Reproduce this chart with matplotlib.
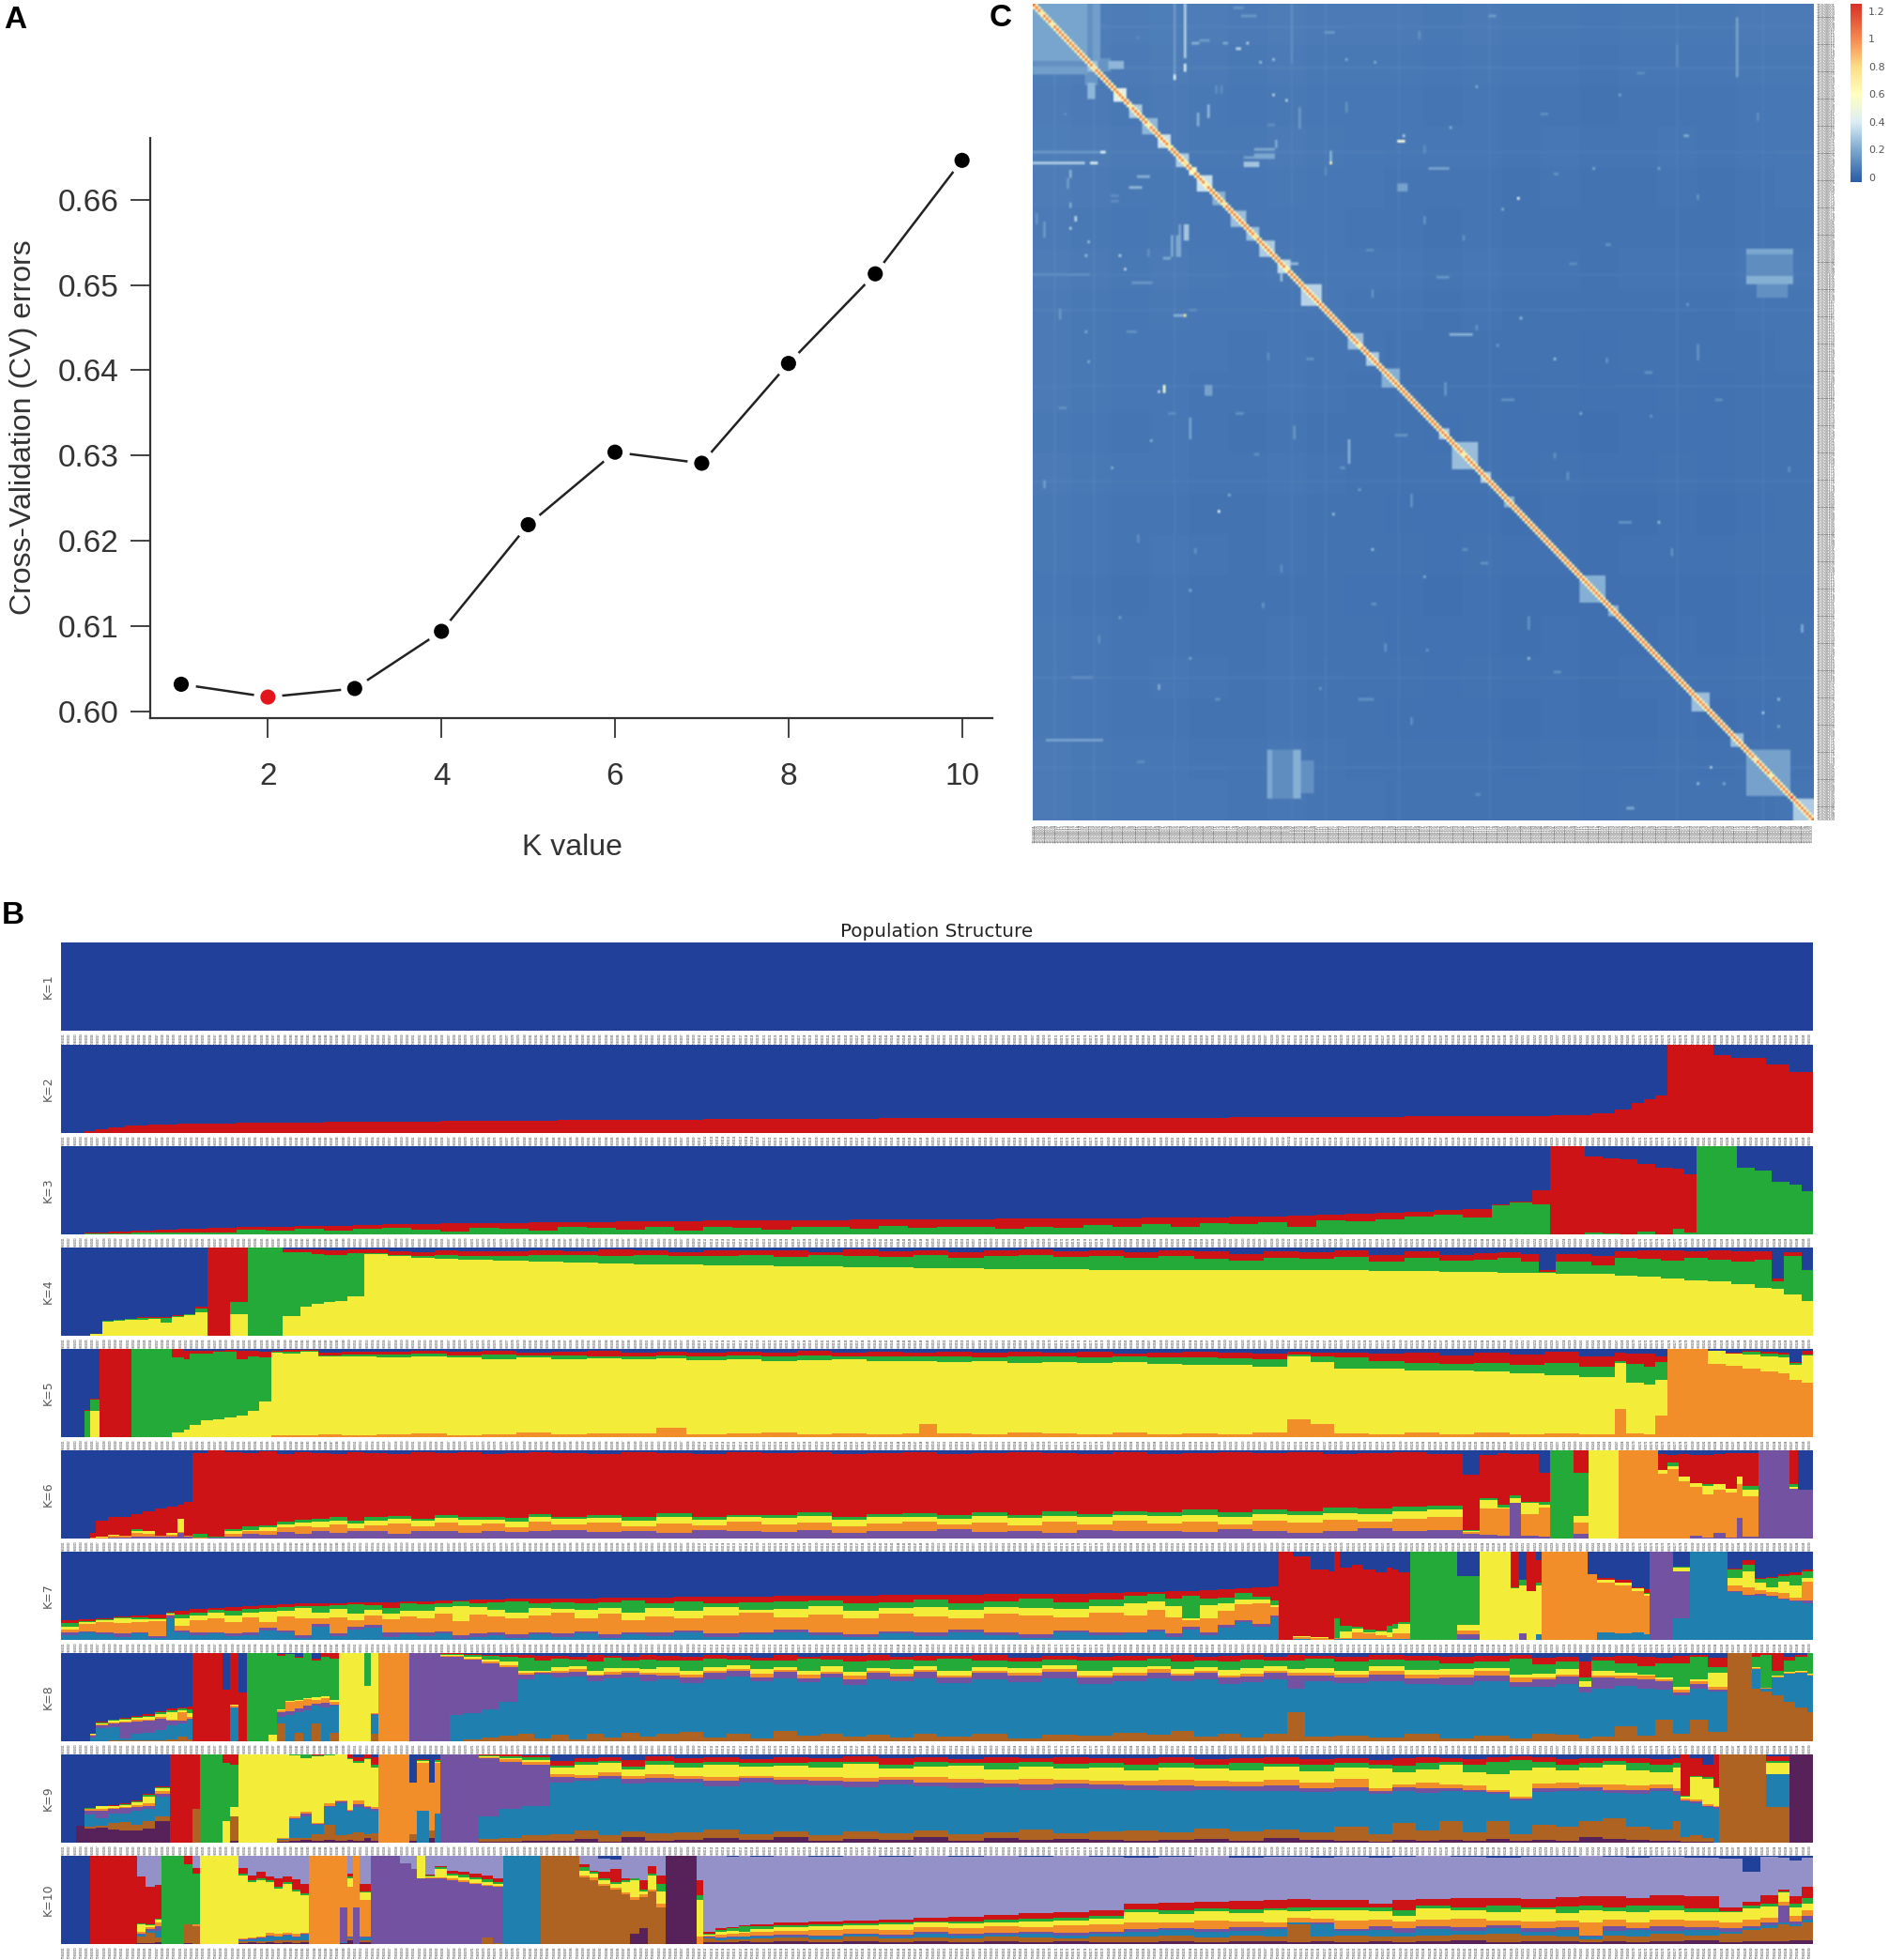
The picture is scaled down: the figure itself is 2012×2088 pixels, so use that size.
import numpy as np
import matplotlib
matplotlib.use('Agg')
import matplotlib.pyplot as plt
from matplotlib.colors import LinearSegmentedColormap, Normalize

W, H = 2012, 2088

# panel A
k_values = [1, 2, 3, 4, 5, 6, 7, 8, 9, 10]
cv_errors = [0.6032, 0.6017, 0.6027, 0.6094, 0.6219, 0.6304, 0.6291, 0.6408, 0.6513, 0.6646]
best_k = 2

# panel B colours
BLUE, RED, GREEN, YELLOW = '#20409A', '#CE1317', '#24AA38', '#F3EC38'
ORANGE, PURPLE, TEAL = '#F28E29', '#7452A2', '#1F7FAE'
BROWN, DARK, LAV = '#AE6322', '#572259', '#9490C8'

# panel B: each row is (last sample of the run, top of each layer from the bottom up, %)
k1_bars = [(300, 0)]
k2_bars = [(4,0),(6,2),(8,4),(11,6),(15,8),(20,9),(30,10),(45,11),(65,12),(85,13),(110,14),(140,15),(170,16),(200,17),
           (230,18),(255,19),(262,20),(266,22),(269,26),(271,33),(273,38),(275,42),(283,100),(286,88),(292,85),(296,77),(300,69)]
k3_bars = [(4,0,0),(8,1,2),(12,1,3),(16,2,4),(20,2,5),(25,2,6),(30,2,7),(35,5,8),(40,4,9),(45,6,10),(50,4,10),(55,6,11),
           (60,7,12),(65,5,12),(70,3,13),(75,7,13),(80,6,13),(85,4,14),(90,8,14),(95,7,14),(100,5,15),(105,9,15),(110,4,15),
           (115,8,16),(120,7,16),(125,5,16),(130,9,16),(135,8,16),(140,6,17),(145,10,17),(150,7,17),(155,9,17),(160,8,17),
           (165,6,18),(170,9,18),(175,7,18),(180,11,18),(185,8,18),(190,12,19),(195,9,19),(200,13,19),(205,12,20),(210,14,20),
           (215,8,21),(220,16,22),(225,15,23),(230,17,25),(235,20,26),(240,22,28),(245,19,29),(248,33,34),(252,36,37),(255,34,50),
           (261,0,100),(264,2,88),(267,1,86),(270,0,85),(273,3,80),(276,0,76),(278,6,74),(280,2,68),(287,100,100),(290,76,76),
           (293,72,72),(296,60,60),(298,56,56),(300,49,49)]
k4_bars = [(5,0,0,0),(7,2,2,2),(9,16,17,17),(11,17,18,18),(13,18,19,19),(15,18,20,21),(17,19,20,21),(19,15,20,21),(21,21,22,23),
           (23,23,24,25),(25,27,31,33),(29,0,0,100),(32,24,38,100),(38,0,100,100),(41,22,95,98),(43,33,95,98),(45,36,93,98),
           (47,38,92,97),(49,39,91,97),(52,45,94,98),(56,93,94,98),(60,90,91,96),(64,88,90,95),(68,87,92,97),(74,86,90,96),
           (80,85,90,96),(86,84,91,97),(92,83,91,96),(98,82,90,98),(104,81,92,97),(110,81,90,95),(116,80,90,97),(122,80,91,97),
           (128,79,89,97),(134,79,91,95),(140,78,90,98),(146,78,89,96),(152,77,91,97),(158,77,88,95),(164,76,90,97),(170,76,92,98),
           (176,76,89,96),(182,75,90,97),(188,75,88,95),(194,75,90,97),(200,74,87,96),(206,74,85,93),(212,74,88,96),(218,74,87,95),
           (224,74,89,97),(230,73,84,91),(236,73,88,96),(242,72,85,92),(246,72,86,94),(250,71,88,95),(253,71,84,93),(256,71,72,75),
           (262,70,84,93),(266,70,80,90),(270,68,88,96),(274,67,87,97),(278,65,85,97),(282,63,88,96),(286,62,86,97),(290,58,84,96),
           (293,54,86,96),(295,53,62,65),(298,47,90,95),(300,39,74,75)]
k5_bars = [(4,0,0,0,0),(5,0,0,30,31),(6.6,0,30,43,44),(12,0,0,0,100),(19,0,0,100,100),(21,0,5,90,100),(22,0,8,88,98),(24,0,14,95,98),
           (26,0,19,95,98),(28,0,20,97,98),(30,0,22,97,99),(32,0,25,88,98),(34,0,30,92,98),(36,0,40,90,97),(38,2,96,97,98),(41,2,95,97,99),
           (44,2,97,98,99),(48,3,92,93,96),(54,2,91,94,97),(60,3,90,94,97),(66,4,92,95,98),(72,2,90,93,97),(78,3,88,94,98),(84,5,90,93,96),
           (90,3,88,93,97),(96,4,89,92,98),(102,4,88,92,96),(107,11,89,93,97),(114,3,87,91,96),(120,4,88,93,97),(126,5,86,92,96),
           (132,3,87,93,98),(138,4,88,92,96),(144,3,86,92,97),(147,4,86,91,96),(150,15,86,91,96),(156,4,85,92,97),(162,3,86,90,96),
           (168,5,84,91,97),(174,4,85,92,96),(180,3,84,90,97),(186,5,85,91,95),(192,3,83,90,96),(198,4,82,90,97),(204,3,82,89,96),
           (210,5,80,88,95),(214,20,92,94,97),(218,15,85,92,96),(224,4,78,90,96),(230,3,78,86,95),(236,5,76,84,96),(242,3,76,83,93),
           (248,5,74,84,96),(254,3,72,82,94),(260,4,70,84,97),(266,3,68,80,92),(268,32,84,86,96),(271,4,62,83,95),(273,3,60,80,95),
           (275,25,65,85,92),(282,100,100,100,100),(285,83,98,98,98),(288,81,95,95,96),(291,78,94,97,98),(294,74,92,95,97),(296,72,90,94,96),
           (298,65,82,84,85),(300,62,93,94,98)]
k6_bars = [(5,0,0,0,0,0),(6,0,1,1,1,6),(8,0,1,2,2,20),(10,1,3,4,4,24),(12,1,3,3,3,25),(14,2,6,9,11,28),(16,2,5,8,9,31),(18,2,3,3,3,34),
           (20,2,4,6,6,36),(21,6,7,22,22,38),(22.5,2,3,3,3,42),(25,0,1,1,5,97),(28,1,1,1,2,100),(31,2,5,9,11,98),(34,5,8,10,14,97),
           (37,4,9,13,15,99),(40,7,13,16,19,96),(43,5,14,18,21,98),(46,8,13,19,22,97),(49,6,16,20,24,96),(52,9,12,17,20,98),(56,8,15,20,24,97),
           (60,5,17,22,26,96),(64,9,14,20,22,98),(68,8,18,23,27,97),(72,6,15,21,25,98),(76,9,17,21,24,96),(80,7,13,19,23,97),(84,8,19,25,28,98),
           (90,10,16,22,25,97),(96,7,18,23,27,96),(102,9,14,20,24,98),(108,6,17,25,29,97),(114,10,15,21,25,96),(120,8,19,24,27,98),
           (126,7,16,23,27,97),(132,10,18,26,30,98),(138,6,14,21,25,96),(144,9,17,24,28,97),(150,8,19,25,29,98),(156,11,16,22,27,96),
           (162,7,18,26,30,97),(168,9,15,23,27,98),(174,6,19,26,31,97),(180,10,16,24,28,96),(186,8,20,27,31,98),(192,9,17,26,30,96),
           (198,7,19,27,33,97),(204,11,16,25,30,98),(210,8,20,28,33,97),(216,6,18,27,31,98),(222,9,21,29,35,96),(228,12,19,28,34,97),
           (234,8,22,31,36,98),(240,10,24,33,37,96),(243,5,7,9,10,72),(246,4,34,44,46,95),(248,3,34,35,38,97),(250,40,40,46,49,96),
           (253,3,28,40,42,96),(255,2,35,38,42,75),(259,0,0,0,100,100),(261.5,5,18,26,75,100),(266.8,0,0,100,100,100),(273.4,0,100,100,100,100),
           (275,0,73,78,78,96),(277,0,79,82,86,95),(279,0,65,70,70,96),(281,3,58,63,63,95),(283,1,50,60,62,95),(285,6,55,62,62,96),
           (287,1,52,56,56,97),(288,23,62,70,70,97),(290.7,2,48,55,60,97),(296,100,100,100,100,100),(297.4,56,56,59,62,100),(300,55,55,55,55,55)]
k7_bars = [(3,5,8,12,15,19,22),(6,8,10,18,20,21,23),(9,6,8,20,22,23,25),(12,3,7,19,25,26,27),(15,7,9,20,23,26,28),(18,2,4,21,23,25,29),
           (19.5,25,28,29,30,31,32),(22,9,11,16,25,29,33),(25,5,8,22,28,31,35),(28,7,9,25,31,34,36),(31,4,7,20,28,33,37),(34,5,8,26,31,35,38),
           (37,11,14,20,32,36,39),(40,8,11,27,33,37,40),(43,2,5,24,36,38,41),(46,15,18,24,31,38,41),(49,4,7,26,35,39,42),(52,12,15,22,30,40,43),
           (55,14,17,28,34,39,43),(58,3,8,23,30,36,43),(61,6,9,27,33,41,44),(64,4,8,25,33,40,44),(67,7,10,30,37,42,45),(70,1,5,21,38,44,45),
           (73,3,7,29,37,42,46),(76,5,8,27,34,43,46),(80,2,6,25,31,44,47),(84,6,9,28,36,42,47),(88,3,7,31,35,43,47),(92,7,10,24,34,41,47),
           (96,2,6,30,36,43,48),(100,6,9,22,31,45,48),(105,4,8,27,36,41,48),(110,8,11,25,33,44,49),(116,3,7,28,37,42,49),(122,6,9,31,34,43,49),
           (128,9,12,26,35,44,50),(134,5,8,29,38,45,50),(140,3,6,24,33,42,50),(146,7,10,30,36,43,51),(152,4,8,27,37,46,51),(158,9,12,25,34,42,51),
           (164,5,8,30,37,44,52),(170,2,6,28,36,47,52),(176,8,11,26,35,43,52),(182,5,9,31,38,46,53),(186,7,9,28,41,50,54),(189,10,12,34,44,52,54),
           (192,3,7,26,38,47,55),(195,12,15,22,25,50,55),(198,5,8,24,39,47,56),(201,14,17,33,42,48,57),(204,20,22,40,46,53,58),(207,15,18,42,46,49,60),
           (208.5,26,28,37,39,45,61),(211,0,0,0,0,0,100),(214,1,1,3,4,4,95),(217,0,0,2,3,3,80),(218,0,0,1,1,1,78),(219,1,1,2,2,24,100),(221,1,1,2,10,16,82),
           (223,1,1,9,13,15,85),(225,1,1,7,9,12,80),(227,1,1,5,10,11,77),(228,1,1,3,8,16,82),(229,1,1,7,13,18,80),(231,1,1,7,18,20,77),
           (239,0,0,0,0,100,100),(243,1,6,11,17,72,72),(248.3,0,0,0,100,100,100),(249.7,0,0,0,58,60,100),(251,0,7,7,62,68,68),(252.5,0,0,0,55,55,100),
           (253.6,6,6,6,62,65,90),(261.4,0,0,100,100,100,100),(263,0,0,74,74,74,74),(266,9,9,65,68,68,70),(269,7,7,62,65,65,68),(271,8,8,55,58,58,60),
           (272,6,6,50,52,53,57),(276,0,100,100,100,100,100),(279,25,78,78,82,83,83),(285.3,100,100,100,100,100,100),(288,54,55,62,70,80,81),
           (290,50,51,60,78,85,90),(292,50,52,56,65,69,70),(294,49,50,54,60,70,71),(296,46,47,53,66,72,75),(298,44,45,48,62,73,77),(300,42,45,66,70,78,80)]
k8_bars = [(5,0,0,0,0,0,0,0),(6,0,4,6,7,8,8,9),(8,0,15,18,19,20,21,22),(10,1,16,20,21,23,24,25),(12,1,3,21,22,25,26,27),(14,1,8,22,25,27,28,29),
           (16,1,10,23,25,28,29,31),(18,1,13,26,28,31,33,34),(20,2,18,23,25,33,35,37),(21.5,5,20,23,33,35,37,38),(22.5,2,25,26,28,32,36,39),
           (27.7,0,0,0,0,0,0,100),(29,0,0,0,0,0,0,58),(30.4,0,38,38,40,42,42,100),(31.8,0,0,0,0,0,0,55),(35.5,0,0,0,0,0,100,100),(37,0,0,0,0,7,100,100),
           (38.5,20,28,33,35,36,97,99),(40,0,30,34,45,46,99,99),(41.5,10,33,37,46,47,95,96),(43,0,35,40,48,49,100,100),(44.5,20,40,43,47,50,92,94),
           (46,0,38,44,49,51,96,100),(47.6,10,40,42,45,47,94,100),(52,0,0,0,0,100,100,100),(53,0,0,0,0,63,100,100),(54.3,8,30,31,32,100,100,100),
           (59.7,0,0,0,100,100,100,100),(65,0,0,100,100,100,100,100),(66.5,0,0,96,97,98,99,100),(69,0,30,96,97,98,99,100),(72,2,32,93,94,96,98,99),
           (75,4,36,88,90,93,97,98),(78.3,6,45,84,86,90,96,98),(81,8,70,76,78,80,95,98),(84,3,76,78,79,80,91,97),(87,7,72,78,80,84,94,97),(90,2,73,79,82,85,93,96),
           (93,9,68,74,76,80,90,98),(96,4,71,76,79,83,95,97),(99,10,72,78,80,83,91,96),(102,5,68,76,78,82,93,98),(106,8,70,74,78,84,92,97),(110,11,66,72,76,80,91,96),
           (114,4,70,78,80,84,94,98),(118,8,73,80,82,86,93,97),(122,3,68,72,77,82,91,95),(126,12,71,79,81,84,92,98),(130,6,67,71,76,80,94,96),(134,9,72,77,79,85,93,97),
           (138,5,64,70,74,79,90,97),(142,7,70,78,80,83,92,98),(146,4,68,73,77,82,93,96),(150,9,71,79,81,85,91,97),(156,5,66,72,75,80,94,97),(162,8,70,78,80,84,92,98),
           (168,3,67,74,78,83,90,95),(174,7,71,79,82,86,93,97),(180,6,65,72,75,80,91,96),(186,10,68,75,78,84,92,97),(190,7,71,78,82,85,94,97),(194,12,68,74,77,82,90,98),
           (198,5,70,78,80,84,92,96),(202,8,65,72,75,81,90,97),(206,4,67,73,77,83,93,98),(210,9,70,78,80,85,91,96),(213,33,60,75,78,82,92,98),(218,5,68,74,78,83,94,97),
           (224,6,66,72,76,80,90,96),(230,4,68,76,80,85,93,98),(236,8,65,71,76,81,91,97),(242,3,64,72,76,82,88,96),(248,6,68,75,80,83,90,97),(252,3,62,67,72,76,94,98),
           (256,9,62,70,72,77,87,95),(260,7,65,73,76,82,90,96),(262,3,55,62,62,68,72,90),(266,5,60,72,74,80,92,96),(270,17,63,71,74,78,88,97),(273,6,60,70,74,76,85,96),
           (276,25,58,68,70,72,88,95),(279,8,52,55,58,62,88,97),(282,25,60,65,68,70,96,98),(285.3,11,56,58,62,78,84,95),(289.5,100,100,100,100,100,100,100),
           (291,60,82,82,83,84,96,100),(293,56,60,60,61,61,98,100),(295,52,72,72,73,75,80,100),(297,45,77,77,78,79,92,96),(299,38,78,78,79,80,96,98),(300,33,75,75,76,77,100,100)]
k9_bars = [(2.5,0,0,0,0,0,0,0,0),(4,19,19,19,19,19,19,19,19),(6,16,18,32,36,38,38,39,39),(8,17,19,28,36,38,41,41,42),(10,15,22,33,38,39,41,42,43),(12,14,23,33,39,40,43,44,45),
           (14,14,20,36,40,43,46,47,48),(16,16,24,38,42,45,52,54,55),(18.7,24,30,52,55,58,62,63,64),(22.5,0,0,0,0,0,0,0,100),(23.8,0,38,38,38,38,38,38,100),
           (27.7,0,0,0,0,0,0,100,100),(29,0,0,0,0,0,25,90,100),(30.4,2,30,30,30,30,40,88,100),(37,0,0,0,0,0,100,100,100),(39,1,3,4,4,5,100,100,100),(41,2,5,27,28,30,99,100,100),
           (43,3,5,30,33,35,96,100,100),(45,2,10,20,21,22,98,99,100),(47,3,20,40,42,45,99,100,100),(49,2,8,45,47,48,100,100,100),(50,3,10,35,36,37,95,96,100),
           (52,2,12,40,44,48,90,93,97),(53,5,10,38,40,42,95,96,100),(54.3,2,11,36,38,40,85,88,97),(59.7,0,0,0,0,100,100,100,100),(61,2,10,10,10,68,68,68,68),(63,0,0,36,36,90,93,94,95),
           (64,5,14,14,14,68,68,68,68),(64.9,0,0,33,33,90,92,94,95),(71.6,0,0,0,100,100,100,100,100),(75,1,4,30,96,97,98,99,100),(79,1,5,38,92,95,96,98,100),(83.7,2,8,42,88,92,94,97,99),
           (88,2,10,68,74,78,85,87,93),(92,4,14,70,73,77,88,92,96),(96,1,9,72,76,80,90,93,97),(100,6,13,67,72,76,83,86,94),(105,2,11,68,73,78,88,93,98),(110,3,12,68,72,76,85,90,96),
           (116,5,15,64,70,74,88,91,97),(122,3,10,68,73,76,86,90,95),(128,6,13,66,71,75,87,90,97),(134,2,9,65,70,74,85,91,96),(140,4,13,63,69,73,89,92,98),(146,3,11,66,71,74,84,88,96),
           (152,6,14,64,68,74,86,91,97),(158,2,10,62,68,72,87,90,95),(164,5,12,63,67,71,83,90,97),(170,3,15,60,66,72,86,91,96),(176,4,11,62,67,71,84,89,97),(182,3,13,61,66,70,85,90,96),
           (188,2,14,60,65,70,82,88,96),(194,3,12,59,65,71,85,90,97),(200,4,16,60,64,70,84,88,95),(206,2,13,58,64,69,82,90,96),(212,5,15,59,65,71,86,89,97),(218,3,12,57,62,68,81,88,95),
           (224,2,18,58,63,72,85,90,96),(228,1,10,55,58,62,84,88,94),(232,3,22,58,63,66,80,87,96),(236,2,14,56,62,68,83,90,97),(240,3,25,59,62,66,88,92,96),(244,2,12,57,60,65,80,88,95),
           (248,4,24,55,57,60,78,92,97),(252,2,10,48,50,52,82,94,98),(256,3,20,57,62,67,85,91,97),(260,2,18,58,62,68,82,88,95),(264,6,25,58,63,66,85,90,96),(268,4,28,56,60,66,88,93,96),
           (272,3,18,55,60,65,82,90,96),(276,2,15,58,62,66,80,88,95),(277.4,2,24,54,58,62,85,90,96),(279,1,6,47,48,50,52,53,100),(281,1,8,45,47,49,75,76,96),(283,1,5,40,42,44,72,74,88),
           (284,0,0,38,40,42,62,63,100),(292,0,100,100,100,100,100,100,100),(296,0,40,78,78,78,90,93,98),(300,100,100,100,100,100,100,100,100)]
k10_bars = [(5,0,0,0,0,0,0,0,0,0),(13,0,0,0,0,0,0,0,100,100),(14.5,1,9,11,12,14,22,23,77,100),(16,1,13,15,17,19,21,22,65,100),(17.2,2,7,15,20,24,28,29,67,100),
            (21,0,0,0,0,0,0,100,100,100),(22.5,1,22,22,22,22,22,90,100,100),(23.8,0,20,20,20,22,22,80,86,100),(30.4,0,0,0,0,0,100,100,100,100),(32,1,3,4,5,6,78,80,86,100),
            (33.5,2,3,5,6,7,70,72,78,100),(35,1,3,6,7,9,72,74,82,100),(36.5,2,3,9,10,13,70,72,77,100),(38,1,4,8,9,12,63,65,75,100),(39.5,2,4,10,11,13,68,70,77,100),
            (41,1,4,7,9,12,60,62,73,100),(42.5,2,4,11,12,13,55,57,68,100),(47.8,0,0,0,0,100,100,100,100,100),(49,1,1,2,42,100,100,100,100,100),(50,4,6,7,9,65,75,77,80,100),
            (51.2,0,0,0,42,100,100,100,100,100),(53,2,4,7,9,50,58,60,68,100),(58,0,0,0,100,100,100,100,100,100),(60,0,0,0,92,92,92,92,92,100),(61,0,0,0,85,85,85,85,85,100),
            (62.4,0,0,0,75,75,100,100,100,100),(64,0,0,0,75,76,77,78,79,100),(66,0,0,0,74,76,85,87,88,100),(68,0,0,0,72,74,78,80,83,100),(70,0,0,0,70,72,76,79,82,100),
            (72,0,0,0,68,69,73,76,80,100),(74,0,7,7,66,67,70,73,78,100),(75.7,0,1,1,65,66,68,70,75,100),(82.2,0,0,100,100,100,100,100,100,100),(88.8,0,100,100,100,100,100,100,100,100),
            (90.5,0,76,76,76,78,83,87,90,100),(92,0,72,72,72,76,80,82,83,100),(94,0,66,66,66,68,72,74,82,97),(96,0,62,62,62,64,68,70,85,96),(97.5,0,56,56,56,58,70,72,75,100),
            (99,12,50,50,50,53,72,74,75,100),(100.5,18,53,53,53,56,60,62,72,100),(102,0,60,60,60,62,78,80,88,100),(103.5,0,42,42,42,46,60,68,78,100),(108.9,100,100,100,100,100,100,100,100,100),
            (110,0,0,0,0,8,50,55,72,100),(112,2,6,7,8,10,11,12,14,100),(114,2,4,6,7,11,14,16,18,100),(116,2,5,7,9,12,15,18,19,99),(118,3,5,8,9,13,14,20,21,100),
            (122,2,6,8,10,14,17,20,22,99),(128,3,7,9,11,15,19,21,25,100),(134,2,5,8,10,16,20,22,26,99),(140,3,8,11,12,17,21,23,27,100),(146,2,6,9,11,16,22,24,28,99),
            (152,3,7,12,14,19,24,26,30,100),(158,2,6,10,12,18,23,26,31,99),(164,3,8,11,13,20,25,28,33,100),(170,2,7,12,14,19,26,29,35,99),(176,3,6,10,13,21,27,30,36,100),
            (182,2,8,12,14,22,29,32,38,99),(188,2,8,14,17,24,36,39,46,98),(194,3,10,16,18,25,34,38,47,99),(200,2,7,14,17,27,37,40,48,100),(206,3,10,15,19,26,35,39,49,98),
            (210,3,9,17,19,25,38,40,50,99),(214,2,22,24,25,30,37,42,51,99),(218,3,8,22,24,29,38,42,50,98),(224,2,10,15,17,27,38,41,50,99),(228,3,9,16,20,28,37,41,46,98),
            (232,2,8,13,18,26,32,38,50,99),(238,3,10,17,20,28,40,44,51,100),(244,4,11,15,19,29,38,42,52,99),(250,2,12,18,21,27,36,44,52,98),(256,3,10,14,18,26,39,42,51,99),
            (260,3,9,16,19,27,35,43,53,99),(264,2,5,8,10,25,38,44,54,100),(268,3,10,15,20,28,37,42,54,99),(272,2,9,16,18,25,36,44,52,98),(278,3,12,15,20,28,38,44,55,99),
            (284,4,10,16,19,27,36,40,54,98),(288,2,12,14,18,24,36,37,42,97),(291,3,16,18,20,28,40,44,48,82),(294,3,18,21,24,30,43,46,55,99),(296,3,22,24,44,48,58,60,62,98),
            (298,4,20,22,26,32,42,46,54,95),(300,4,25,28,32,38,46,52,65,98)]

row_bars = [k1_bars, k2_bars, k3_bars, k4_bars, k5_bars, k6_bars, k7_bars, k8_bars, k9_bars, k10_bars]
row_colors = [[BLUE], [RED], [GREEN, RED], [YELLOW, GREEN, RED], [ORANGE, YELLOW, GREEN, RED],
              [PURPLE, ORANGE, YELLOW, GREEN, RED], [TEAL, PURPLE, ORANGE, YELLOW, GREEN, RED],
              [BROWN, TEAL, PURPLE, ORANGE, YELLOW, GREEN, RED],
              [DARK, BROWN, TEAL, PURPLE, ORANGE, YELLOW, GREEN, RED],
              [DARK, BROWN, TEAL, PURPLE, ORANGE, YELLOW, GREEN, RED, LAV]]
row_names = ['K=1', 'K=2', 'K=3', 'K=4', 'K=5', 'K=6', 'K=7', 'K=8', 'K=9', 'K=10']
row_tops = [1004, 1112.5, 1221, 1329, 1437, 1545, 1653, 1761, 1869, 1977]

# panel C: kinship blocks along the diagonal (first sample, last sample, value)
hm_blocks = [(0,21,0.19),(21,25,0.26),(31,36,0.42),(37,42,0.3),(42,48,0.24),(48,53,0.36),(55,60,0.3),(60,63,0.45),(63,69,0.36),
             (69,74,0.22),(76,82,0.26),(82,87,0.26),(87,93,0.3),(94,99,0.34),(103,111,0.32),(121,127,0.26),(128,133,0.3),(134,141,0.22),
             (156,160,0.3),(161,171,0.26),(172,176,0.3),(181,185,0.22),(210,220,0.22),(221,225,0.22),(253,260,0.26),(268,273,0.26),
             (274,291,0.18),(292,300,0.3)]
# off-diagonal patches, mirrored (row, col, rows, cols, value)
hm_spots = [(0,54,26,1,0.15),(26,54,2,1,0.4),(0,99,22,1,0.12),(1,77,1,4,0.14),(14,61,1,3,0.22),(16,78,1,2,0.32),(14,73,1,2,0.2),
            (10,112,1,4,0.15),(21,87,1,1,0.25),(21,131,1,1,0.2),(40,63,5,1,0.22),(58,0,1,20,0.3),(58,22,1,3,0.38),(54,114,4,1,0.22),
            (58,114,1,1,0.7),(50,140,1,3,0.5),(58,81,2,6,0.28),(56,81,1,6,0.18),(67,37,1,5,0.24),(64,13,4,1,0.16),(80,4,6,1,0.15),
            (82,14,1,1,0.3),(85,55,8,2,0.2),(85,53,8,1,0.2),(92,20,1,1,0.25),(92,33,1,1,0.3),(93,50,1,3,0.2),(97,35,1,1,0.3),
            (95,99,1,3,0.25),(0,21,22,3,0.13),(23,0,3,21,0.17),(24,20,6,5,0.14),(29,21,6,3,0.24),(274,90,18,2,0.2),(274,92,18,8,0.12),
            (274,100,18,3,0.22),(158,139,1,5,0.14),(160,121,9,1,0.22),(152,60,8,1,0.18),(142,48,1,1,0.3),(186,71,1,1,0.4),
            (187,115,1,1,0.25),(251,110,1,1,0.15),(237,151,1,1,0.15),(270,5,1,22,0.18),(102,38,1,8,0.15),(4,175,1,3,0.16),(15,247,8,1,0.12),
            (66,140,3,4,0.18),(100,278,8,12,0.13),(45,160,1,1,0.22),(130,200,1,1,0.25),(125,255,6,1,0.13),(210,150,1,1,0.2),(190,240,1,1,0.25),
            (215,60,1,1,0.2),(240,60,1,1,0.18),(170,30,1,1,0.2),(120,20,1,1,0.2),(75,180,1,1,0.2),(33,225,1,1,0.18),(48,250,1,2,0.2),
            (155,100,5,1,0.14),(145,180,1,5,0.13),(225,190,5,1,0.13),(280,260,1,1,0.28),(286,255,1,1,0.25),(286,265,1,1,0.2),(295,228,1,3,0.2),
            (12,40,1,1,0.13),(30,70,3,1,0.12),(36,120,4,1,0.13),(44,90,1,3,0.12),(52,150,3,1,0.12),(62,200,1,2,0.13),(72,30,1,3,0.12),
            (78,150,3,1,0.13),(88,220,1,2,0.13),(105,130,3,1,0.13),(112,60,1,3,0.12),(118,170,2,1,0.13),(128,90,3,1,0.12),(135,235,1,3,0.13),
            (148,10,1,3,0.13),(165,85,1,2,0.13),(172,205,3,1,0.13),(178,125,1,1,0.16),(195,40,3,1,0.12),(200,165,1,2,0.13),(206,95,3,1,0.12),
            (220,130,1,2,0.13),(232,25,3,1,0.12),(245,200,1,3,0.13),(255,70,1,2,0.13),(262,145,3,1,0.12),(278,40,1,3,0.12),(290,170,1,2,0.12)]
hm_stripes = [(8,0.012),(23,0.015),(54,0.012),(99,0.01),(112,0.012),(140,0.012),(175,0.01),(247,0.012),(280,0.012)]
hm_bands = [0.040,0.035,0.030,0.032,0.028,0.026,0.030,0.026,0.024,0.022,0.020,0.022,0.018,0.020,0.016,0.018,0.020,0.018,0.022,0.024]
diag_bright = [(3,0.75),(7,0.7),(23,0.8),(37,0.75),(44,0.7),(52,0.75),(58,0.8),(61,0.65),(66,0.7),(73,0.75),(85,0.8),(97,0.7),(125,0.75),(165,0.7),(291,1.25),(283,0.7),(277,0.75)]

cbar_ticks = [0, 0.2, 0.4, 0.6, 0.8, 1, 1.2]
cbar_labels = ['0', '0.2', '0.4', '0.6', '0.8', '1', '1.2']
n_samples = 300
sample_ids = ['TGS%05d' % (i + 1) for i in range(n_samples)]

plt.rcParams['font.family'] = ['Liberation Sans', 'DejaVu Sans']
fig = plt.figure(figsize=(W / 100, H / 100), dpi=100)


def px_axes(x0, y0, x1, y1):
    return fig.add_axes([x0 / W, 1 - y1 / H, (x1 - x0) / W, (y1 - y0) / H])


def px_text(x, y, s, **kw):
    fig.text(x / W, 1 - y / H, s, ha=kw.pop('ha', 'center'), va=kw.pop('va', 'center'), **kw)


# ---- A: CV errors
ax = px_axes(160, 147, 1057, 765)
ax.plot(k_values, cv_errors, color='#222222', lw=1.8, zorder=1)
ax.plot(k_values, cv_errors, 'o', color='white', ms=22, mew=0, zorder=2)
colors = ['#E2141C' if k == best_k else 'black' for k in k_values]
ax.scatter(k_values, cv_errors, c=colors, s=135, lw=0, zorder=3)
ax.set_xlim(0.643, 10.35)
ax.set_ylim(0.59923, 0.66722)
ax.set_xticks([2, 4, 6, 8, 10])
ax.set_yticks([0.60, 0.61, 0.62, 0.63, 0.64, 0.65, 0.66])
ax.set_yticklabels(['0.60', '0.61', '0.62', '0.63', '0.64', '0.65', '0.66'])
ax.tick_params(length=15, width=1.3, color='#333333', labelcolor='#333333', labelsize=24)
ax.tick_params(axis='x', pad=19)
ax.tick_params(axis='y', pad=9)
for side in ['top', 'right']:
    ax.spines[side].set_visible(False)
for side in ['left', 'bottom']:
    ax.spines[side].set_color('#333333')
    ax.spines[side].set_linewidth(1.6)
px_text(25, 455, 'Cross-Validation (CV) errors', rotation=90, fontsize=23, color='#333333')
px_text(609, 903, 'K value', fontsize=23, color='#333333')

# ---- B: population structure
for top, bars, cols, name in zip(row_tops, row_bars, row_colors, row_names):
    ax = px_axes(65, top, 1931, top + 94)
    ax.set_facecolor(BLUE)
    edges = [0] + [b[0] for b in bars]
    tops = np.array([b[1:] for b in bars], dtype=float).T
    prev = np.zeros(len(bars))
    for layer, c in zip(tops, cols):
        ax.stairs(layer, edges, baseline=prev, fill=True, color=c, lw=0)
        prev = layer
    ax.set_xlim(0, n_samples)
    ax.set_ylim(0, 100)
    ax.set_yticks([])
    ax.set_xticks(np.arange(n_samples) + 0.5)
    ax.set_xticklabels(sample_ids, rotation=90, fontsize=1.8, color='#111111')
    ax.tick_params(axis='x', length=0, pad=2)
    for s in ax.spines.values():
        s.set_visible(False)
    px_text(51, top + 47, name, rotation=90, fontsize=9, color='#555555', family='DejaVu Sans')
px_text(998, 992, 'Population Structure', fontsize=14.4, color='#222222', family='DejaVu Sans')

# ---- C: kinship heatmap
hm = np.zeros((n_samples, n_samples))
for i in range(n_samples):
    for j in range(n_samples):
        hm[i, j] = hm_bands[i // 15] + hm_bands[j // 15]
for idx, v in hm_stripes:
    hm[idx, :] += v
    hm[:, idx] += v
for a, b, v in hm_blocks:
    hm[a:b, a:b] = np.maximum(hm[a:b, a:b], v)
for r, c, nr, nc, v in hm_spots:
    hm[r:r + nr, c:c + nc] = np.maximum(hm[r:r + nr, c:c + nc], v)
    hm[c:c + nc, r:r + nr] = np.maximum(hm[c:c + nc, r:r + nr], v)
# the diagonal ribbon is about a cell and a half wide in the original
idx_all = np.arange(n_samples - 1)
hm[idx_all, idx_all + 1] = 0.62
hm[idx_all + 1, idx_all] = 0.62
hm[np.arange(n_samples), np.arange(n_samples)] = 1.05
for idx, v in diag_bright:
    hm[idx, idx] = v

vmin, vmax = -0.034, 1.254
stops = [(0, '#3566AB'), (0.2, '#7DA9D0'), (0.4, '#DCEEF5'), (0.6, '#FFFFBF'), (0.8, '#FDDC86'), (1.0, '#F58A50'), (1.254, '#D73027')]
cmap = LinearSegmentedColormap.from_list('kin', [(0.0, '#2E5DA6')] + [((v - vmin) / (vmax - vmin), c) for v, c in stops])
norm = Normalize(vmin, vmax)

ax = px_axes(1100, 4, 1931, 874)
im = ax.imshow(hm, cmap=cmap, norm=norm, aspect='auto', interpolation='bilinear')
ax.set_xticks(np.arange(n_samples))
ax.set_xticklabels(sample_ids, rotation=90, fontsize=3, color='#444444')
ax.set_yticks(np.arange(n_samples))
ax.set_yticklabels(sample_ids, fontsize=3, color='#444444')
ax.yaxis.tick_right()
ax.tick_params(length=0, pad=3)
for s in ax.spines.values():
    s.set_visible(False)

cax = px_axes(1971, 4, 1983, 194)
cb = fig.colorbar(im, cax=cax)
cb.set_ticks(cbar_ticks)
cb.set_ticklabels(cbar_labels)
cb.ax.tick_params(length=0, pad=5, labelsize=8, labelcolor='#555555')
for t in cb.ax.get_yticklabels():
    t.set_family('DejaVu Sans')
cb.outline.set_visible(False)

# panel letters
px_text(4, 21, 'A', ha='left', fontsize=24, fontweight='bold', color='black')
px_text(2, 975, 'B', ha='left', fontsize=24, fontweight='bold', color='black')
px_text(1054, 19, 'C', ha='left', fontsize=24, fontweight='bold', color='black')

fig.savefig('out.png', dpi=100)
